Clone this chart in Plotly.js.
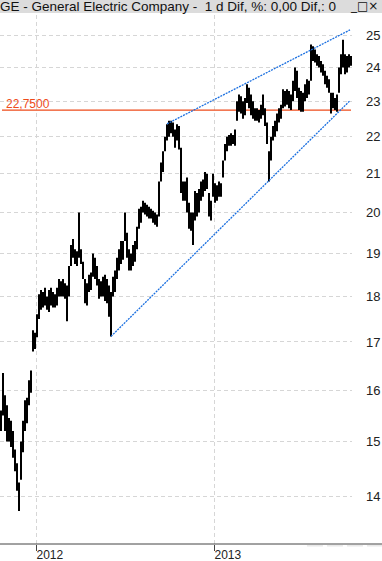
<!DOCTYPE html>
<html>
<head>
<meta charset="utf-8">
<script src="https://cdn.plot.ly/plotly-3.0.1.min.js"></script>
<style>
  html, body { margin: 0; padding: 0; background: #fff; }
  #chart { width: 382px; height: 561px; }
</style>
</head>
<body>
<div id="chart"></div>
<script>
const titleText = 'GE - General Electric Company -  1 d Dif, %: 0,00 Dif,: 0';
const xTickPos = [17.5, 106.5];
const xTickLabels = ['2012', '2013'];
const yTicks = [14, 15, 16, 17, 18, 19, 20, 21, 22, 23, 24, 25];

const barHigh = [
  15.6, 16.35, 15.9, 15.7, 15.45, 15.4, 15.2, 14.85, 14.6, 14.25,
  15.0, 15.4, 15.8, 15.85, 16.2, 16.4, 17.25, 17.2, 17.6, 18.05,
  18.15, 18.1, 18.2, 18.0, 18.15, 18.2, 18.1, 18.05, 18.2, 18.4,
  18.35, 18.4, 18.3, 18.25, 18.7, 19.2, 19.35, 19.1, 19.05, 20.0,
  19.1, 18.8, 18.4, 18.3, 18.5, 18.55, 19.0, 18.9, 18.7, 18.4,
  18.35, 18.45, 18.5, 18.4, 18.25, 18.1, 18.45, 18.6, 18.9, 19.1,
  19.3, 19.3, 20.0, 19.5, 19.1, 19.0, 19.2, 19.3, 19.65, 20.1,
  20.15, 20.3, 20.25, 20.2, 20.15, 20.1, 20.05, 20.0, 19.95, 20.8,
  21.3, 21.6, 22.0, 22.35, 22.45, 22.45, 22.4, 22.2, 22.35, 22.3,
  21.7, 20.8, 20.8, 20.9, 20.25, 20.0, 20.0, 20.55, 20.5, 20.6,
  20.8, 20.85, 21.05, 21.0, 20.5, 20.3, 21.0, 20.75, 20.7, 20.8,
  20.75, 21.35, 21.8, 22.0, 22.05, 22.1, 22.05, 22.2, 23.0, 23.2,
  23.15, 23.0, 23.1, 23.5, 23.4, 23.2, 23.0, 22.8, 22.8, 22.75,
  22.9, 23.2, 22.8, 22.4, 21.6, 22.0, 22.3, 22.45, 22.65, 22.8,
  22.9, 23.35, 23.3, 23.35, 23.3, 23.2, 23.6, 24.0, 23.9, 23.4,
  23.3, 23.25, 23.5, 23.65, 23.6, 24.7, 24.65, 24.55, 24.4, 24.35,
  24.2, 24.1, 23.9, 23.75, 23.65, 23.25, 23.25, 23.1, 23.2, 24.0,
  24.4, 24.85, 24.4, 24.35, 24.4, 24.35
];
const barLow = [
  15.2, 15.5, 15.2, 15.0, 15.0, 14.9, 14.7, 14.45, 14.1, 13.75,
  14.3, 14.8, 15.2, 15.35, 15.7, 15.95, 16.8, 16.85, 17.1, 17.5,
  17.7, 17.75, 17.8, 17.7, 17.65, 17.8, 17.75, 17.75, 17.8, 18.0,
  18.0, 18.0, 17.95, 17.45, 18.0, 18.7, 18.9, 18.75, 18.7, 18.9,
  18.75, 18.4, 17.85, 17.8, 18.1, 18.15, 18.45, 18.4, 18.25, 17.95,
  18.0, 18.0, 17.9, 17.85, 17.55, 17.12, 18.0, 18.1, 18.4, 18.6,
  18.75, 18.85, 19.3, 18.9, 18.6, 18.6, 18.7, 18.8, 19.1, 19.6,
  19.75, 20.0, 19.95, 19.9, 19.85, 19.85, 19.75, 19.7, 19.65, 19.9,
  20.8, 21.05, 21.6, 21.9, 22.0, 22.1, 22.0, 21.7, 21.9, 21.65,
  20.5, 20.3, 20.3, 20.0, 19.6, 19.55, 19.2, 19.8, 19.9, 20.0,
  20.3, 20.4, 20.55, 20.6, 19.9, 19.8, 20.4, 20.25, 20.3, 20.4,
  20.4, 20.9, 21.35, 21.6, 21.75, 21.75, 21.8, 21.75, 22.45, 22.7,
  22.65, 22.5, 22.6, 22.95, 22.8, 22.6, 22.5, 22.45, 22.45, 22.4,
  22.5, 22.6, 22.3, 21.8, 20.8, 21.35, 21.9, 22.0, 22.15, 22.4,
  22.5, 22.8, 22.85, 22.9, 22.8, 22.75, 23.0, 23.3, 23.1, 22.75,
  22.7, 22.7, 23.0, 23.1, 23.2, 23.6, 24.2, 24.15, 24.05, 24.0,
  23.85, 23.75, 23.5, 23.4, 23.25, 22.65, 22.8, 22.75, 22.7, 23.25,
  23.8, 24.0, 23.8, 23.85, 24.0, 24.05
];

// Horizontal level and trend lines (bar index, price)
const levelValue = 22.75;
const levelLabel = '22,7500';
const levelX = [0.5, 175];
const upperTrendX = [83, 174.5];
const upperTrendY = [22.36, 25.16];
const lowerTrendX = [55, 174.5];
const lowerTrendY = [17.12, 23.02];

// ---- Build bar segments from the arrays ----
const segX = [], segY = [];
for (let i = 0; i < barHigh.length; i++) {
  segX.push(i, i, null);
  segY.push(barLow[i], barHigh[i], null);
}

const FONT = 'Liberation Sans, Arial, sans-serif';
const RED = '#ee4b1a';
const BLUE = '#1a6fe0';
const GRID = '#d6d6d6';

const traces = [
  { x: levelX, y: [levelValue, levelValue], mode: 'lines',
    line: { color: RED, width: 1.3 }, hoverinfo: 'skip' },
  { x: segX, y: segY, mode: 'lines', line: { color: '#000', width: 2 },
    hoverinfo: 'skip', connectgaps: false },
  { x: upperTrendX, y: upperTrendY, mode: 'lines',
    line: { color: BLUE, width: 1.3, dash: '2px,1px' }, hoverinfo: 'skip' },
  { x: lowerTrendX, y: lowerTrendY, mode: 'lines',
    line: { color: BLUE, width: 1.3, dash: '2px,1px' }, hoverinfo: 'skip' }
];

const layout = {
  width: 382, height: 561,
  margin: { l: 0, r: 30, t: 15, b: 17, pad: 0 },
  paper_bgcolor: '#ffffff', plot_bgcolor: '#ffffff',
  showlegend: false,
  font: { family: FONT, color: '#222' },
  xaxis: {
    range: [-0.5, 175.5],
    tickmode: 'array', tickvals: xTickPos, ticktext: xTickLabels,
    ticks: 'outside', ticklen: 6, tickwidth: 1, tickcolor: '#444',
    ticklabelposition: 'outside right',
    tickfont: { family: FONT, size: 12, color: '#222' },
    showgrid: true, gridcolor: GRID, griddash: '4px,3px', gridwidth: 1,
    zeroline: false, showline: false, fixedrange: true
  },
  yaxis: {
    type: 'log', side: 'right',
    range: [1.12023, 1.40885],
    tickmode: 'array', tickvals: yTicks, ticktext: yTicks.map(String),
    ticks: '', ticklabelstandoff: 13,
    tickfont: { family: FONT, size: 13, color: '#222' },
    showgrid: true, gridcolor: GRID, griddash: '4px,3px', gridwidth: 1,
    zeroline: false, showline: false, fixedrange: true
  },
  shapes: [
    { type: 'rect', xref: 'paper', yref: 'paper',
      x0: -0.01, x1: 1.1, y0: 1.0038, y1: 1.03,
      fillcolor: '#dcdcdc', line: { width: 0 }, layer: 'below' },
    { type: 'line', xref: 'paper', yref: 'paper',
      x0: 0, x1: 1.0852, y0: 0, y1: 0,
      line: { color: '#444', width: 1 } },
    { type: 'line', xref: 'paper', yref: 'paper',
      x0: 0.872, x1: 1.0852, y0: -0.0035, y1: -0.0035,
      line: { color: '#dddddd', width: 1, dash: '16px,4px' } }
  ],
  annotations: [
    { text: titleText, xref: 'paper', yref: 'paper', x: 0, y: 1.0162,
      xanchor: 'left', yanchor: 'middle', xshift: -2, showarrow: false,
      font: { family: FONT, size: 13.5, color: '#111' } },
    { text: '_□×', xref: 'paper', yref: 'paper', x: 1.0795, y: 1.0162,
      xanchor: 'right', yanchor: 'middle', showarrow: false,
      font: { family: 'DejaVu Sans, sans-serif', size: 12, color: '#111' } },
    { text: levelLabel, xref: 'paper', yref: 'y', x: 0.012,
      y: Math.log10(levelValue), xanchor: 'left', yanchor: 'bottom',
      yshift: -3, showarrow: false, font: { family: FONT, size: 12, color: RED } }
  ]
};

Plotly.newPlot('chart', traces, layout, { staticPlot: true, displayModeBar: false });
</script>
</body>
</html>
